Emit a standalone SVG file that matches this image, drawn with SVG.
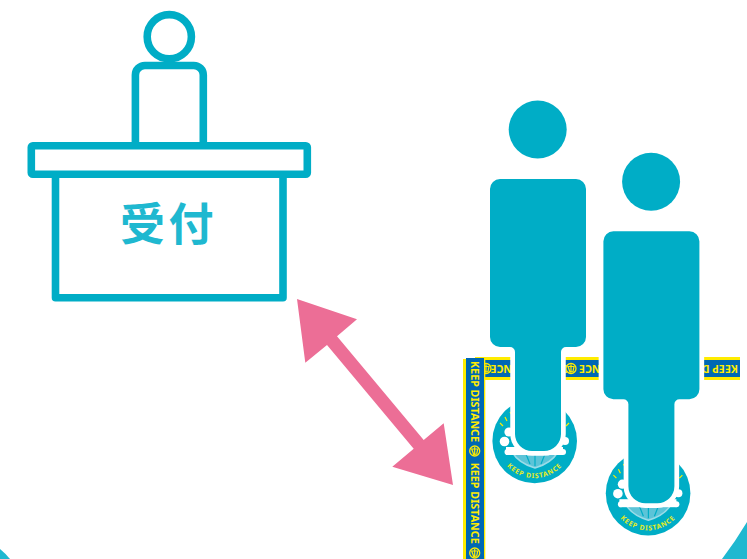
<svg xmlns="http://www.w3.org/2000/svg" xmlns:xlink="http://www.w3.org/1999/xlink" width="747" height="559" viewBox="0 0 747 559">
<style>
.line{fill:#fff;stroke:#00adc6;stroke-width:7.6;stroke-linejoin:round}
.tape{font:700 10.5px "Noto Sans","Liberation Sans",sans-serif;fill:#ffec00}
.arc{font:700 6.8px "Noto Sans","Liberation Sans",sans-serif;fill:#e6ec1e;letter-spacing:.8px}
.ico{fill:#0068b3;stroke:#ffec00;stroke-width:1.3}
.icl{fill:none;stroke:#ffec00;stroke-width:1.2}
.solid{fill:#00adc6}
</style>
<defs>
<path id="body" d="M500,179H576a10,10 0 0 1 10,10V337a10,10 0 0 1 -10,10H566a5,5 0 0 0 -5,5V434a17,17 0 0 1 -17,17H532a17,17 0 0 1 -17,-17V352a5,5 0 0 0 -5,-5H500a10,10 0 0 1 -10,-10V189a10,10 0 0 1 10,-10Z"/>
<path id="arcp" d="M503,461A37.5,37.5 0 0 0 566,461"/>
<g id="icon">
<circle class="ico" r="5"/>
<path class="icl" d="M-3,-2L3,-2L2,3L-1,3.5ZM0,-4V4"/>
</g>
<g id="sticker">
<circle cx="534.7" cy="441" r="42.3" fill="#00adc6"/>
<path d="M512,452C518,462 528,466 535,468C542,466 552,462 558,452Z" fill="#5cc4d8" stroke="#9adce8" stroke-width="1.5"/>
<path d="M535,452V466M526,454L530,464M545,454L541,464" stroke="#00adc6" stroke-width="1.2" fill="none"/>
<text class="arc"><textPath href="#arcp" startOffset="50%" text-anchor="middle">KEEP DISTANCE</textPath></text>
<path d="M500,423L503,426M505,417L507,421M510,412L512,415M569,423L566,426M564,417L562,421" stroke="#ffec00" stroke-width="1.2" fill="none"/>
<g fill="#fff">
<circle cx="504.5" cy="441.5" r="4.8"/>
<circle cx="509" cy="432" r="4.6"/>
<circle cx="565" cy="441" r="4"/>
<circle cx="507.5" cy="452" r="3"/>
<circle cx="563" cy="452" r="3"/>
<rect x="506" y="447" width="57" height="8"/>
</g>
</g>
</defs>

<rect width="747" height="559" fill="#fff"/>
<g id="corners" fill="#1fb8d0">
<path d="M0,549Q5,553 10,559H0Z"/>
<path d="M722,559Q735,542 747,522V559Z"/>
</g>

<g id="tape">
<rect x="475" y="357" width="265" height="23" fill="#ffec00"/>
<rect x="475" y="360" width="265" height="17" fill="#0068b3"/>
<text class="tape" transform="translate(738,365) rotate(180)" textLength="81" lengthAdjust="spacingAndGlyphs">KEEP DISTANCE</text>
<text class="tape" transform="translate(660,365) rotate(180)" textLength="81" lengthAdjust="spacingAndGlyphs">KEEP DISTANCE</text>
<text class="tape" transform="translate(571.5,365) rotate(180)" textLength="81" lengthAdjust="spacingAndGlyphs">KEEP DISTANCE</text>
<use href="#icon" x="571" y="368.5"/>
<use href="#icon" x="486" y="368.5"/>
<rect x="463" y="359" width="22.3" height="200" fill="#ffec00"/>
<rect x="466" y="358" width="18" height="201" fill="#0068b3"/>
<text class="tape" transform="translate(471,361) rotate(90)" textLength="81" lengthAdjust="spacingAndGlyphs">KEEP DISTANCE</text>
<text class="tape" transform="translate(471,462.7) rotate(90)" textLength="81" lengthAdjust="spacingAndGlyphs">KEEP DISTANCE</text>
<use href="#icon" x="474.7" y="451"/>
<use href="#icon" x="474.7" y="553"/>
</g>

<g id="person-1">
<use href="#sticker"/>
<use href="#body" fill="#fff" stroke="#fff" stroke-width="9.5"/>
<use href="#body" class="solid"/>
<circle class="solid" cx="537.7" cy="129.5" r="29"/>
</g>

<g id="person-2" transform="translate(113.4,52.2)">
<use href="#sticker"/>
<use href="#body" fill="#fff" stroke="#fff" stroke-width="9.5"/>
<use href="#body" class="solid"/>
<circle class="solid" cx="537.7" cy="129.5" r="29"/>
</g>

<g id="reception">
<circle class="line" cx="169.3" cy="36.7" r="22.1"/>
<path class="line" d="M135.4,146V75a9.5,9.5 0 0 1 9.5,-9.5H193.8a9.5,9.5 0 0 1 9.5,9.5V146"/>
<path class="line" d="M55.5,174V297.7H283V174"/>
<rect class="line" x="31.3" y="145.8" width="276" height="28.4" rx="1.5"/>
<text x="168.5" y="241" text-anchor="middle" font-family="'Noto Sans CJK JP',sans-serif" font-size="45" font-weight="700" letter-spacing="3.5" fill="#1fb8d0">受付</text>
</g>

<g id="connectors">
<polygon fill="#ec6e96" points="297,299 357,319.3 337,336.3 423.7,440 443.7,423.3 453,485 392.3,466.7 413.7,448.7 327,345 305.3,362.7"/>
</g>
</svg>
